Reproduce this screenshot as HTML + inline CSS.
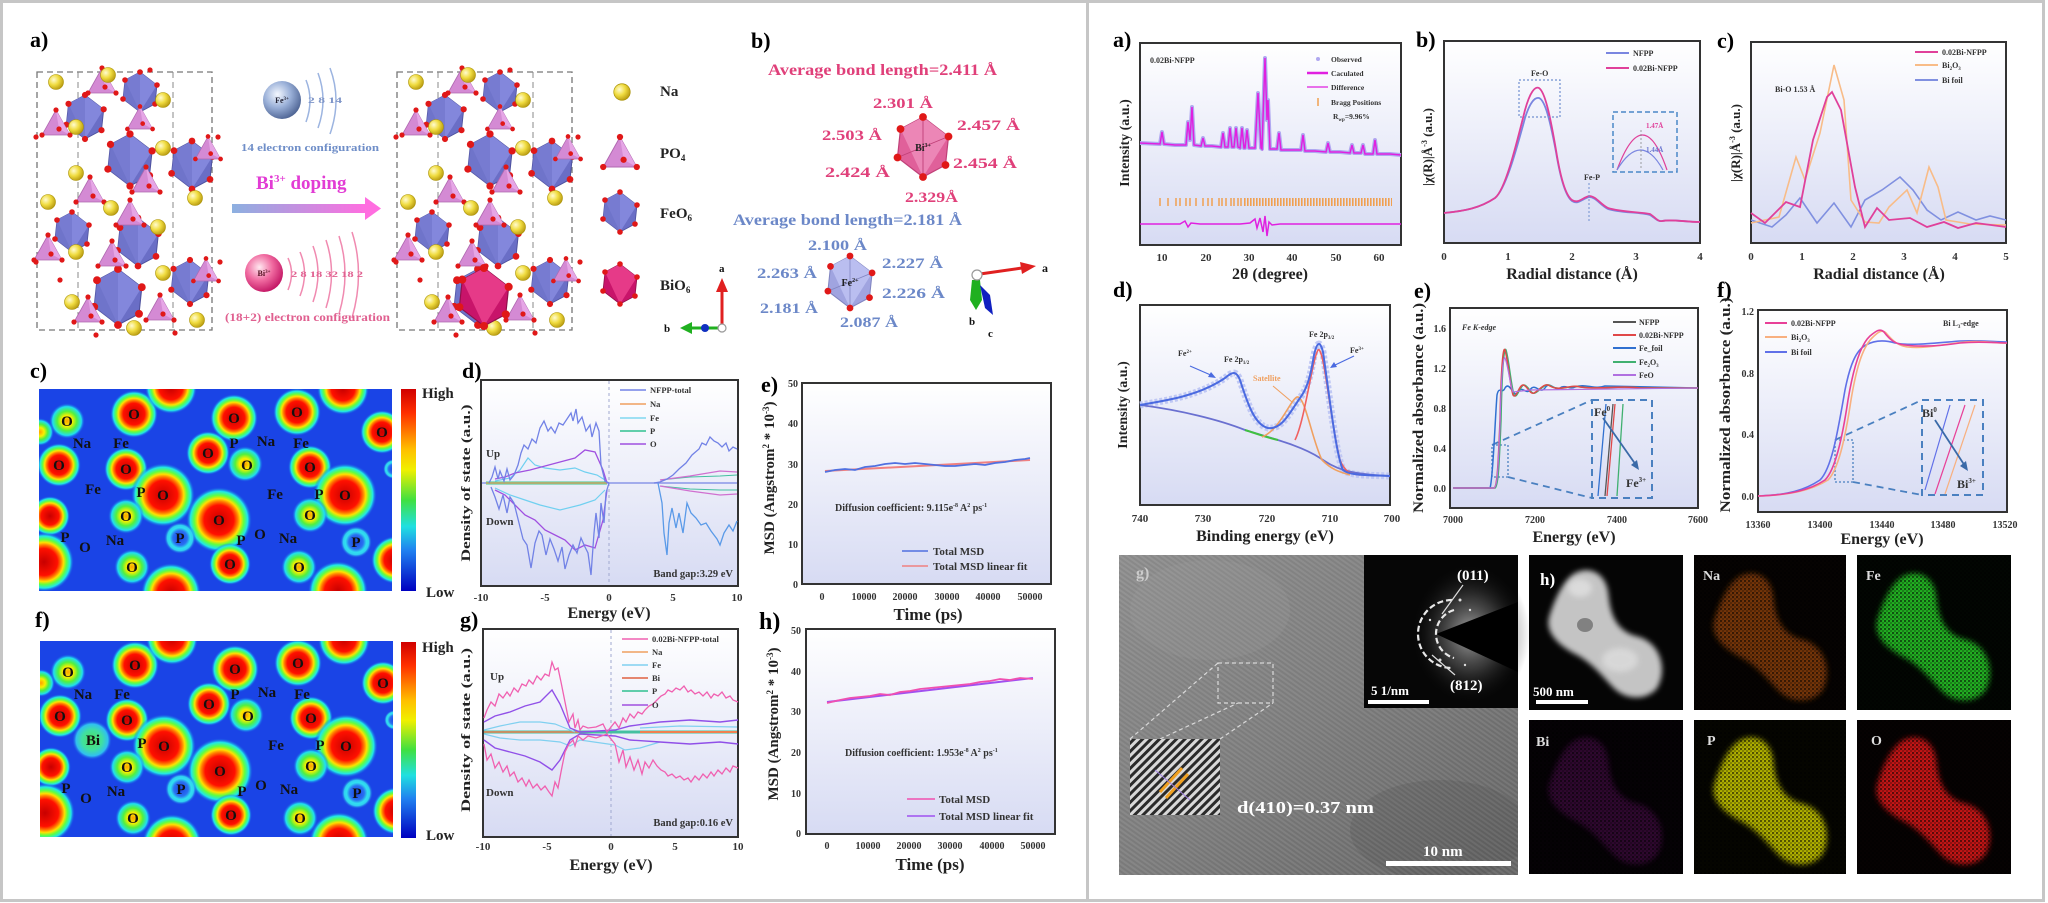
<!DOCTYPE html>
<html><head><meta charset="utf-8"><style>
html,body{margin:0;padding:0;background:#fff;}
svg{display:block;}
text{font-family:"Liberation Serif","Times New Roman",serif;font-weight:bold;}
</style></head><body>
<svg width="2048" height="903" viewBox="0 0 2048 903" xmlns="http://www.w3.org/2000/svg">
<defs>
<linearGradient id="pbg" x1="0" y1="0" x2="0" y2="1"><stop offset="0" stop-color="#ffffff"/><stop offset="1" stop-color="#d7dbf3"/></linearGradient>
<radialGradient id="naG" cx="0.35" cy="0.35" r="0.7"><stop offset="0" stop-color="#fffbd0"/><stop offset="0.5" stop-color="#f0dc40"/><stop offset="1" stop-color="#b89a10"/></radialGradient>
<radialGradient id="feG" cx="0.38" cy="0.35" r="0.7"><stop offset="0" stop-color="#f4f8ff"/><stop offset="0.5" stop-color="#9ab0d8"/><stop offset="1" stop-color="#4a6090"/></radialGradient>
<radialGradient id="biG" cx="0.38" cy="0.35" r="0.7"><stop offset="0" stop-color="#ffe8f0"/><stop offset="0.5" stop-color="#f06aa0"/><stop offset="1" stop-color="#c01060"/></radialGradient>
<linearGradient id="arrG" x1="0" y1="0" x2="1" y2="0"><stop offset="0" stop-color="#8cb0e0"/><stop offset="1" stop-color="#ff6ee0"/></linearGradient>
<radialGradient id="hot"><stop offset="0" stop-color="#c80000"/><stop offset="0.45" stop-color="#ff1000"/><stop offset="0.57" stop-color="#ff8000"/><stop offset="0.65" stop-color="#ffe000"/><stop offset="0.75" stop-color="#60ff40"/><stop offset="0.87" stop-color="#20e8e8"/><stop offset="1" stop-color="#1a44e6" stop-opacity="0"/></radialGradient>
<radialGradient id="warm"><stop offset="0" stop-color="#ffa000"/><stop offset="0.3" stop-color="#f8f000"/><stop offset="0.55" stop-color="#50f040"/><stop offset="0.8" stop-color="#20e0f0"/><stop offset="1" stop-color="#1a44e6" stop-opacity="0"/></radialGradient>
<radialGradient id="cyr"><stop offset="0" stop-color="#1a44e6"/><stop offset="0.45" stop-color="#2a70f0"/><stop offset="0.65" stop-color="#30e0f0"/><stop offset="0.8" stop-color="#30d0f0"/><stop offset="1" stop-color="#1a44e6" stop-opacity="0"/></radialGradient>
<radialGradient id="grn"><stop offset="0" stop-color="#50e060"/><stop offset="0.5" stop-color="#40e0a0"/><stop offset="0.8" stop-color="#30c0f0"/><stop offset="1" stop-color="#1a44e6" stop-opacity="0"/></radialGradient>
<linearGradient id="cbar" x1="0" y1="0" x2="0" y2="1"><stop offset="0" stop-color="#d00000"/><stop offset="0.12" stop-color="#ff3000"/><stop offset="0.3" stop-color="#ffc000"/><stop offset="0.4" stop-color="#f0f000"/><stop offset="0.55" stop-color="#40e040"/><stop offset="0.68" stop-color="#20e0e0"/><stop offset="0.8" stop-color="#2080f0"/><stop offset="1" stop-color="#0000c0"/></linearGradient>
<radialGradient id="glow"><stop offset="0" stop-color="#bbbbbb" stop-opacity="0.9"/><stop offset="0.5" stop-color="#666" stop-opacity="0.5"/><stop offset="1" stop-color="#000" stop-opacity="0"/></radialGradient>
<linearGradient id="temG" x1="0" y1="0" x2="1" y2="1"><stop offset="0" stop-color="#8a8a8a"/><stop offset="0.5" stop-color="#7a7a7a"/><stop offset="1" stop-color="#626262"/></linearGradient>
<pattern id="fringe" width="4" height="4" patternUnits="userSpaceOnUse" patternTransform="rotate(35)"><rect width="4" height="2" fill="#fff" fill-opacity="0.09"/></pattern>
<pattern id="stripes" width="6" height="6" patternUnits="userSpaceOnUse" patternTransform="rotate(-45)"><rect width="6" height="6" fill="#2a2a2a"/><rect width="6" height="3" fill="#d8d8d8"/></pattern>
<pattern id="speck" width="4" height="4" patternUnits="userSpaceOnUse"><circle cx="1" cy="1" r="1.2" fill="#000" fill-opacity="0.55"/><circle cx="3" cy="3" r="0.9" fill="#000" fill-opacity="0.45"/></pattern>
<filter id="bl" x="-20%" y="-20%" width="140%" height="140%"><feGaussianBlur stdDeviation="3"/></filter>
<clipPath id="cpc"><rect x="39" y="389" width="353" height="202"/></clipPath>
<clipPath id="cpf"><rect x="40" y="641" width="353" height="196"/></clipPath>
<clipPath id="cptem"><rect x="1119" y="555" width="399" height="320"/></clipPath>

<g id="oct"><polygon points="0,-20 17,-7 15,12 0,20 -17,7 -15,-12" fill="#6a6ec6" stroke="#4d519e" stroke-width="0.8"/><polygon points="0,-20 17,-7 0,20 -15,-12" fill="#8387dc"/><polygon points="0,-20 0,20 -17,7 -15,-12" fill="#7276cc" opacity="0.7"/><g fill="#e01818"><circle cx="0" cy="-20" r="2.8"/><circle cx="17" cy="-7" r="2.8"/><circle cx="15" cy="12" r="2.8"/><circle cx="0" cy="20" r="2.8"/><circle cx="-17" cy="7" r="2.8"/><circle cx="-15" cy="-12" r="2.8"/></g></g>
<g id="octBi"><polygon points="0,-20 17,-7 15,12 0,20 -17,7 -15,-12" fill="#c8146a" stroke="#90104a" stroke-width="0.8"/><polygon points="0,-20 17,-7 0,20 -15,-12" fill="#e63a88"/><g fill="#e01818"><circle cx="0" cy="-20" r="2.8"/><circle cx="17" cy="-7" r="2.8"/><circle cx="15" cy="12" r="2.8"/><circle cx="0" cy="20" r="2.8"/><circle cx="-17" cy="7" r="2.8"/><circle cx="-15" cy="-12" r="2.8"/></g></g>
<g id="octP"><polygon points="0,-20 17,-7 15,12 0,20 -17,7 -15,-12" fill="#e0609a" stroke="#c04078" stroke-width="0.8"/><polygon points="0,-20 17,-7 0,20 -15,-12" fill="#ec86b6"/><g stroke="#c04078" stroke-width="0.6"><line x1="0" y1="-20" x2="0" y2="20"/><line x1="-17" y1="7" x2="17" y2="-7"/></g><g fill="#e01818"><circle cx="0" cy="-20" r="2.6"/><circle cx="17" cy="-7" r="2.6"/><circle cx="15" cy="12" r="2.6"/><circle cx="0" cy="20" r="2.6"/><circle cx="-17" cy="7" r="2.6"/><circle cx="-15" cy="-12" r="2.6"/></g></g>
<g id="octL"><polygon points="0,-20 17,-7 15,12 0,20 -17,7 -15,-12" fill="#a0a4e0" stroke="#8084c0" stroke-width="0.8"/><polygon points="0,-20 17,-7 0,20 -15,-12" fill="#babef0"/><g stroke="#8084c0" stroke-width="0.6"><line x1="0" y1="-20" x2="0" y2="20"/><line x1="-17" y1="7" x2="17" y2="-7"/></g><g fill="#e01818"><circle cx="0" cy="-20" r="2.6"/><circle cx="17" cy="-7" r="2.6"/><circle cx="15" cy="12" r="2.6"/><circle cx="0" cy="20" r="2.6"/><circle cx="-17" cy="7" r="2.6"/><circle cx="-15" cy="-12" r="2.6"/></g></g>
<g id="tet"><polygon points="0,-15 14,10 -14,10" fill="#d48ad4" stroke="#b068b0" stroke-width="0.8"/><polygon points="0,-15 14,10 3,4" fill="#e6a6e6"/><g fill="#e01818"><circle cx="0" cy="-15" r="2.6"/><circle cx="14" cy="10" r="2.6"/><circle cx="-14" cy="10" r="2.6"/><circle cx="3" cy="4" r="2.6"/></g></g>
<g id="naB"><circle r="7.5" fill="url(#naG)" stroke="#a89000" stroke-width="0.6"/></g>

<g id="cryst">
<rect x="37" y="72" width="175" height="258" fill="none" stroke="#777" stroke-width="1.3" stroke-dasharray="6,4"/>
<line x1="78" y1="72" x2="78" y2="330" stroke="#888" stroke-width="1" stroke-dasharray="6,4"/>
<line x1="173" y1="72" x2="173" y2="330" stroke="#888" stroke-width="1" stroke-dasharray="6,4"/>
<use href="#oct" transform="translate(85,117) scale(1.1)"/>
<use href="#oct" transform="translate(140,92) scale(1.0)"/>
<use href="#oct" transform="translate(130,160) scale(1.3)"/>
<use href="#oct" transform="translate(192,165) scale(1.2)"/>
<use href="#oct" transform="translate(72,232) scale(1.0)"/>
<use href="#oct" transform="translate(138,242) scale(1.2)"/>
<use href="#oct" transform="translate(118,297) scale(1.4)"/>
<use href="#oct" transform="translate(190,282) scale(1.1)"/>
<use href="#tet" transform="translate(102,83)"/>
<use href="#tet" transform="translate(56,125)"/>
<use href="#tet" transform="translate(140,120) scale(0.9)"/>
<use href="#tet" transform="translate(146,182)"/>
<use href="#tet" transform="translate(90,192)"/>
<use href="#tet" transform="translate(130,215)"/>
<use href="#tet" transform="translate(208,150) scale(0.9)"/>
<use href="#tet" transform="translate(48,250)"/>
<use href="#tet" transform="translate(112,256)"/>
<use href="#tet" transform="translate(88,312)"/>
<use href="#tet" transform="translate(160,310)"/>
<use href="#tet" transform="translate(206,272) scale(0.9)"/>
<use href="#naB" transform="translate(56,82)"/>
<use href="#naB" transform="translate(108,75)"/>
<use href="#naB" transform="translate(163,100)"/>
<use href="#naB" transform="translate(76,127)"/>
<use href="#naB" transform="translate(163,148)"/>
<use href="#naB" transform="translate(76,173)"/>
<use href="#naB" transform="translate(48,202)"/>
<use href="#naB" transform="translate(111,208)"/>
<use href="#naB" transform="translate(195,198)"/>
<use href="#naB" transform="translate(158,227)"/>
<use href="#naB" transform="translate(76,252)"/>
<use href="#naB" transform="translate(163,273)"/>
<use href="#naB" transform="translate(72,302)"/>
<use href="#naB" transform="translate(197,320)"/>
<use href="#naB" transform="translate(134,328)"/>
<g fill="#e01818"><circle cx="36" cy="137" r="2.6"/><circle cx="218" cy="137" r="2.6"/><circle cx="36" cy="262" r="2.6"/><circle cx="220" cy="262" r="2.6"/><circle cx="150" cy="70" r="2.6"/><circle cx="96" cy="335" r="2.6"/><circle cx="175" cy="333" r="2.6"/><circle cx="60" cy="280" r="2.6"/></g>
</g>

<g id="spots">
<rect x="30" y="380" width="370" height="220" fill="#1a44e6"/>
<circle cx="67" cy="421" r="18" fill="url(#warm)"/>
<circle cx="134" cy="414" r="24" fill="url(#hot)"/>
<circle cx="171" cy="388" r="26" fill="url(#hot)"/>
<circle cx="234" cy="418" r="24" fill="url(#hot)"/>
<circle cx="297" cy="412" r="24" fill="url(#hot)"/>
<circle cx="343" cy="389" r="26" fill="url(#hot)"/>
<circle cx="382" cy="432" r="22" fill="url(#hot)"/>
<circle cx="59" cy="465" r="22" fill="url(#hot)"/>
<circle cx="126" cy="469" r="22" fill="url(#hot)"/>
<circle cx="208" cy="453" r="22" fill="url(#hot)"/>
<circle cx="245" cy="464" r="18" fill="url(#warm)"/>
<circle cx="310" cy="467" r="22" fill="url(#hot)"/>
<circle cx="163" cy="495" r="32" fill="url(#hot)"/>
<circle cx="345" cy="495" r="32" fill="url(#hot)"/>
<circle cx="50" cy="516" r="20" fill="url(#hot)"/>
<circle cx="126" cy="516" r="18" fill="url(#warm)"/>
<circle cx="219" cy="520" r="33" fill="url(#hot)"/>
<circle cx="310" cy="515" r="18" fill="url(#warm)"/>
<circle cx="180" cy="538" r="16" fill="url(#cyr)"/>
<circle cx="356" cy="542" r="16" fill="url(#cyr)"/>
<circle cx="44" cy="562" r="30" fill="url(#hot)"/>
<circle cx="132" cy="567" r="18" fill="url(#warm)"/>
<circle cx="230" cy="564" r="21" fill="url(#hot)"/>
<circle cx="299" cy="567" r="18" fill="url(#warm)"/>
<circle cx="171" cy="593" r="30" fill="url(#hot)"/>
<circle cx="338" cy="591" r="30" fill="url(#hot)"/>
<circle cx="395" cy="560" r="24" fill="url(#hot)"/>
<circle cx="40" cy="432" r="14" fill="url(#warm)"/>
<circle cx="393" cy="469" r="10" fill="url(#cyr)"/>
</g>
<path id="blob" d="M42 14 C58 6, 76 14, 78 38 C80 58, 86 76, 108 82 C134 88, 142 118, 130 138 C118 152, 96 150, 84 138 C72 126, 62 112, 44 102 C24 92, 10 78, 14 62 C18 48, 28 22, 42 14 Z"/>
</defs>

<rect x="0" y="0" width="2048" height="903" fill="#fff"/>
<!-- panel borders -->
<rect x="1.5" y="1.5" width="1086" height="899" fill="none" stroke="#c6c6c6" stroke-width="3"/>
<rect x="1087.5" y="1.5" width="956" height="899" fill="none" stroke="#c6c6c6" stroke-width="3"/>

<!-- ============ LEFT PANEL ============ -->
<text x="30" y="47" font-size="22">a)</text>
<use href="#cryst"/>
<use href="#cryst" transform="translate(360,0)"/>
<use href="#octBi" transform="translate(484,297) scale(1.45)"/>

<!-- Fe ball -->
<circle cx="282" cy="100" r="19" fill="url(#feG)"/>
<text x="282" y="103" font-size="8" text-anchor="middle" fill="#223">Fe<tspan font-size="5" dy="-3">3+</tspan></text>
<g fill="none" stroke="#9cb4e0" stroke-width="1.5"><path d="M306 80 Q314 100 306 122"/><path d="M318 73 Q328 100 318 128"/><path d="M330 68 Q342 100 330 134"/></g>
<text x="308" y="103" font-size="8" fill="#7f96c8" textLength="34" lengthAdjust="spacingAndGlyphs">2 8 14</text>
<text x="241" y="151" font-size="11" fill="#6f8ec8" textLength="138" lengthAdjust="spacingAndGlyphs">14 electron configuration</text>
<text x="256" y="189" font-size="19" fill="#e23cd4">Bi<tspan font-size="11" dy="-7">3+</tspan><tspan dy="7"> doping</tspan></text>
<rect x="232" y="204" width="134" height="9" fill="url(#arrG)"/>
<polygon points="365,197 381,208.5 365,220" fill="#ff6ee0"/>
<circle cx="264" cy="273" r="19" fill="url(#biG)"/>
<text x="264" y="276" font-size="8" text-anchor="middle" fill="#512">Bi<tspan font-size="5" dy="-3">3+</tspan></text>
<g fill="none" stroke="#f08ab0" stroke-width="1.5"><path d="M288 258 Q295 273 288 290"/><path d="M300 252 Q309 273 300 296"/><path d="M313 246 Q323 273 313 302"/><path d="M326 240 Q337 273 326 308"/><path d="M339 236 Q351 273 339 314"/><path d="M352 232 Q365 273 352 318"/></g>
<text x="291" y="277" font-size="8" fill="#e06090" textLength="72" lengthAdjust="spacingAndGlyphs">2 8 18 32 18 2</text>
<text x="225" y="321" font-size="11.5" fill="#e06090" textLength="165" lengthAdjust="spacingAndGlyphs">(18+2) electron configuration</text>

<!-- legend a -->
<use href="#naB" transform="translate(622,92) scale(1.1)"/>
<use href="#tet" transform="translate(620,155) scale(1.2)"/>
<use href="#oct" transform="translate(620,212) scale(1.0)"/>
<use href="#octBi" transform="translate(620,284) scale(1.0)"/>
<text x="660" y="96" font-size="15" fill="#222">Na</text>
<text x="660" y="158" font-size="15" fill="#222">PO<tspan font-size="9" dy="3">4</tspan></text>
<text x="660" y="218" font-size="15" fill="#222">FeO<tspan font-size="9" dy="3">6</tspan></text>
<text x="660" y="290" font-size="15" fill="#222">BiO<tspan font-size="9" dy="3">6</tspan></text>
<!-- axes left -->
<line x1="722" y1="328" x2="722" y2="290" stroke="#e02020" stroke-width="3"/><polygon points="716,292 722,278 728,292" fill="#e02020"/>
<text x="719" y="272" font-size="11" font-family="Liberation Sans" fill="#111">a</text>
<line x1="720" y1="328" x2="690" y2="328" stroke="#20b020" stroke-width="3"/><polygon points="692,322 680,328 692,334" fill="#20b020"/>
<circle cx="705" cy="328" r="4" fill="#1030c0"/>
<circle cx="722" cy="328" r="4" fill="#fff" stroke="#999" stroke-width="1.2"/>
<text x="664" y="332" font-size="11" font-family="Liberation Sans" fill="#111">b</text>

<!-- b) -->
<text x="751" y="48" font-size="22">b)</text>
<g fill="#e0407a">
<text x="768" y="75" font-size="16" textLength="229" lengthAdjust="spacingAndGlyphs">Average bond length=2.411 Å</text>
<text x="873" y="108" font-size="15" textLength="60" lengthAdjust="spacingAndGlyphs">2.301 Å</text>
<text x="822" y="140" font-size="15" textLength="60" lengthAdjust="spacingAndGlyphs">2.503 Å</text>
<text x="957" y="130" font-size="15" textLength="63" lengthAdjust="spacingAndGlyphs">2.457 Å</text>
<text x="825" y="177" font-size="15" textLength="65" lengthAdjust="spacingAndGlyphs">2.424 Å</text>
<text x="953" y="168" font-size="15" textLength="64" lengthAdjust="spacingAndGlyphs">2.454 Å</text>
<text x="905" y="202" font-size="15" textLength="53" lengthAdjust="spacingAndGlyphs">2.329Å</text>
</g>
<use href="#octP" transform="translate(923,147) scale(1.5)"/>
<text x="923" y="151" font-size="10" text-anchor="middle" fill="#222">Bi<tspan font-size="6" dy="-4">3+</tspan></text>
<g fill="#6c88c8">
<text x="733" y="225" font-size="16" textLength="229" lengthAdjust="spacingAndGlyphs">Average bond length=2.181 Å</text>
<text x="808" y="250" font-size="15" textLength="59" lengthAdjust="spacingAndGlyphs">2.100 Å</text>
<text x="757" y="278" font-size="15" textLength="60" lengthAdjust="spacingAndGlyphs">2.263 Å</text>
<text x="882" y="268" font-size="15" textLength="61" lengthAdjust="spacingAndGlyphs">2.227 Å</text>
<text x="882" y="298" font-size="15" textLength="63" lengthAdjust="spacingAndGlyphs">2.226 Å</text>
<text x="760" y="313" font-size="15" textLength="58" lengthAdjust="spacingAndGlyphs">2.181 Å</text>
<text x="840" y="327" font-size="15" textLength="58" lengthAdjust="spacingAndGlyphs">2.087 Å</text>
</g>
<use href="#octL" transform="translate(850,282) scale(1.3)"/>
<text x="850" y="286" font-size="10" text-anchor="middle" fill="#222">Fe<tspan font-size="6" dy="-4">2+</tspan></text>
<!-- axes right -->
<line x1="980" y1="274" x2="1022" y2="268" stroke="#e02020" stroke-width="3"/><polygon points="1020,262 1036,266 1022,274" fill="#e02020"/>
<text x="1042" y="272" font-size="12" font-family="Liberation Sans" fill="#111">a</text>
<polygon points="972,280 980,280 982,300 976,310 970,300" fill="#20b020"/>
<polygon points="980,285 990,295 993,315 985,308" fill="#1020c0"/>
<circle cx="977" cy="275" r="5" fill="#fff" stroke="#999" stroke-width="1.2"/>
<text x="969" y="325" font-size="11" font-family="Liberation Sans" fill="#111">b</text>
<text x="988" y="337" font-size="11" font-family="Liberation Sans" fill="#111">c</text>

<!-- c) charge density -->
<text x="30" y="378" font-size="22">c)</text>
<g clip-path="url(#cpc)"><use href="#spots"/></g>
<g font-size="15" fill="#111" text-anchor="middle">
<text x="67" y="426">O</text><text x="134" y="419">O</text><text x="234" y="423">O</text><text x="297" y="417">O</text><text x="382" y="437">O</text><text x="59" y="470">O</text><text x="126" y="474">O</text><text x="208" y="458">O</text><text x="247" y="470">O</text><text x="310" y="472">O</text><text x="163" y="500">O</text><text x="345" y="500">O</text><text x="126" y="521">O</text><text x="219" y="525">O</text><text x="310" y="520">O</text><text x="132" y="572">O</text><text x="230" y="569">O</text><text x="299" y="572">O</text><text x="85" y="552">O</text><text x="260" y="539">O</text>
<text x="82" y="448">Na</text><text x="121" y="448">Fe</text><text x="234" y="448">P</text><text x="266" y="446">Na</text><text x="301" y="448">Fe</text><text x="93" y="494">Fe</text><text x="141" y="497">P</text><text x="275" y="499">Fe</text><text x="319" y="499">P</text><text x="65" y="542">P</text><text x="115" y="545">Na</text><text x="180" y="543">P</text><text x="241" y="545">P</text><text x="288" y="543">Na</text><text x="356" y="547">P</text>
</g>
<rect x="401" y="389" width="15" height="202" fill="url(#cbar)"/>
<text x="422" y="398" font-size="15" fill="#222">High</text>
<text x="426" y="597" font-size="15" fill="#222">Low</text>

<!-- f) -->
<text x="35" y="627" font-size="22">f)</text>
<g clip-path="url(#cpf)"><g transform="translate(1,251)"><use href="#spots"/><circle cx="91" cy="489" r="20" fill="url(#grn)"/></g></g>
<g font-size="15" fill="#111" text-anchor="middle" transform="translate(1,251)">
<text x="67" y="426">O</text><text x="134" y="419">O</text><text x="234" y="423">O</text><text x="297" y="417">O</text><text x="382" y="437">O</text><text x="59" y="470">O</text><text x="126" y="474">O</text><text x="208" y="458">O</text><text x="247" y="470">O</text><text x="310" y="472">O</text><text x="163" y="500">O</text><text x="345" y="500">O</text><text x="126" y="521">O</text><text x="219" y="525">O</text><text x="310" y="520">O</text><text x="132" y="572">O</text><text x="230" y="569">O</text><text x="299" y="572">O</text><text x="85" y="552">O</text><text x="260" y="539">O</text>
<text x="82" y="448">Na</text><text x="121" y="448">Fe</text><text x="234" y="448">P</text><text x="266" y="446">Na</text><text x="301" y="448">Fe</text><text x="92" y="494">Bi</text><text x="141" y="497">P</text><text x="275" y="499">Fe</text><text x="319" y="499">P</text><text x="65" y="542">P</text><text x="115" y="545">Na</text><text x="180" y="543">P</text><text x="241" y="545">P</text><text x="288" y="543">Na</text><text x="356" y="547">P</text>
</g>
<rect x="401" y="642" width="15" height="196" fill="url(#cbar)"/>
<text x="422" y="652" font-size="15" fill="#222">High</text>
<text x="426" y="840" font-size="15" fill="#222">Low</text>

<!-- d) DOS -->
<text x="462" y="378" font-size="22">d)</text>
<rect x="481" y="380" width="257" height="206" fill="url(#pbg)" stroke="#333" stroke-width="2"/>
<line x1="609" y1="381" x2="609" y2="585" stroke="#a0a8d0" stroke-width="1" stroke-dasharray="3,3"/>
<line x1="482" y1="483" x2="737" y2="483" stroke="#8a96e8" stroke-width="1.5"/>
<line x1="486" y1="483" x2="607" y2="483" stroke="#40c890" stroke-width="3"/>
<line x1="486" y1="483" x2="607" y2="483" stroke="#f0a060" stroke-width="1.2"/>
<polyline fill="none" stroke="#44c0a0" stroke-width="1" points="660,480 690,477 720,476 737,475"/>
<polyline fill="none" stroke="#44c0a0" stroke-width="1" points="660,486 690,489 720,490 737,490"/>
<polyline fill="none" stroke="#70d0f0" stroke-width="1.2" points="495,481 510,478 520,470 528,458 535,465 545,468 560,470 575,468 585,472 597,475 605,480"/>
<polyline fill="none" stroke="#70d0f0" stroke-width="1.2" points="495,488 510,495 525,500 540,505 560,510 580,505 595,500 605,490"/>
<polyline fill="none" stroke="#a050e0" stroke-width="1.3" points="495,479 505,477 515,473 530,470 545,466 560,462 575,458 585,450 595,452 603,470 607,483"/>
<polyline fill="none" stroke="#a050e0" stroke-width="1.3" points="495,490 505,495 515,505 525,515 535,520 545,530 555,535 565,540 575,550 585,545 595,548 603,520 607,490"/>
<polyline fill="none" stroke="#d070d0" stroke-width="1.2" points="660,480 690,476 720,471 737,472"/>
<polyline fill="none" stroke="#d070d0" stroke-width="1.2" points="660,486 690,491 720,495 737,494"/>
<polyline fill="none" stroke="#7282e6" stroke-width="1.3" points="489,483 492,477 495,467 498,479 500,471 504,481 507,469 510,480 514,475 518,465 521,453 524,445 528,449 532,439 536,443 540,428 544,421 548,431 551,427 555,433 559,423 563,425 567,419 571,413 573,421 576,409 578,423 582,417 586,431 590,425 592,437 596,423 599,431 601,465 605,481 609,483"/>
<polyline fill="none" stroke="#7282e6" stroke-width="1.3" points="491,487 495,497 499,509 503,495 507,513 510,497 514,503 519,523 523,539 527,545 531,568 535,543 539,531 542,535 546,555 550,539 554,549 558,561 562,547 565,569 569,555 573,545 577,553 581,538 585,547 588,553 591,575 594,533 596,513 599,538 601,503 604,523 606,493 609,483"/>
<polyline fill="none" stroke="#7282e6" stroke-width="1.3" points="654,483 660,482 667,479 673,475 679,469 686,463 692,455 699,449 702,443 706,445 710,437 714,441 718,443 722,447 726,443 729,451 733,447 737,449"/>
<polyline fill="none" stroke="#5a9ae8" stroke-width="1.3" points="658,483 662,503 664,533 667,555 669,523 672,508 676,528 679,513 683,533 687,503 691,513 696,518 701,525 706,523 711,531 717,539 720,545 724,533 729,525 733,531 737,521"/>
<g stroke-width="1.6"><line x1="620" y1="390" x2="646" y2="390" stroke="#7282e6"/><line x1="620" y1="404" x2="646" y2="404" stroke="#f0a060"/><line x1="620" y1="418" x2="646" y2="418" stroke="#80d8f0"/><line x1="620" y1="431" x2="646" y2="431" stroke="#30c090"/><line x1="620" y1="444" x2="646" y2="444" stroke="#a050e0"/></g>
<g font-size="8.5" fill="#333"><text x="650" y="393">NFPP-total</text><text x="650" y="407">Na</text><text x="650" y="421">Fe</text><text x="650" y="434">P</text><text x="650" y="447">O</text></g>
<text x="486" y="457" font-size="11" fill="#333">Up</text>
<text x="486" y="525" font-size="11" fill="#333">Down</text>
<text x="733" y="577" font-size="10.5" fill="#333" text-anchor="end">Band gap:3.29 eV</text>
<g font-size="11" fill="#333" text-anchor="middle"><text x="481" y="601">-10</text><text x="545" y="601">-5</text><text x="609" y="601">0</text><text x="673" y="601">5</text><text x="737" y="601">10</text></g>
<text x="609" y="618" font-size="16" text-anchor="middle" fill="#222">Energy (eV)</text>
<text transform="translate(470,483) rotate(-90)" font-size="13" text-anchor="middle" fill="#222" textLength="157" lengthAdjust="spacingAndGlyphs">Density of state (a.u.)</text>

<!-- g) DOS -->
<text x="460" y="627" font-size="22">g)</text>
<rect x="483" y="629" width="255" height="208" fill="url(#pbg)" stroke="#333" stroke-width="2"/>
<line x1="611" y1="630" x2="611" y2="836" stroke="#a0a8d0" stroke-width="1" stroke-dasharray="3,3"/>
<line x1="484" y1="732" x2="737" y2="732" stroke="#44c0a0" stroke-width="3"/>
<line x1="484" y1="732" x2="580" y2="732" stroke="#f08050" stroke-width="1.5"/>
<line x1="640" y1="732" x2="737" y2="732" stroke="#f08050" stroke-width="2"/>
<polyline fill="none" stroke="#80d0f0" stroke-width="1.2" points="484,730 500,726 520,722 540,722 555,724 565,728 575,732"/>
<polyline fill="none" stroke="#80d0f0" stroke-width="1.2" points="484,734 500,738 520,740 540,740 560,742 570,746 580,740 615,745 625,750 640,748 660,742"/>
<polyline fill="none" stroke="#80d0f0" stroke-width="1.2" points="640,728 680,726 737,727"/>
<polyline fill="none" stroke="#9050e8" stroke-width="1.4" points="484,722 495,716 510,712 525,706 540,702 552,690 560,704 570,728 580,732 615,730 630,726 660,722 690,720 720,722 738,720"/>
<polyline fill="none" stroke="#9050e8" stroke-width="1.4" points="484,740 495,748 510,752 525,756 540,762 552,770 560,760 570,740 580,734 615,736 630,740 660,742 690,744 720,742 738,744"/>
<polyline fill="none" stroke="#f060b0" stroke-width="1.3" points="484,718 487,710 491,702 495,706 499,694 503,698 507,692 510,696 514,688 518,692 522,684 526,686 529,680 533,684 537,676 541,680 545,674 549,676 552,662 555,670 558,668 561,682 565,702 569,722 573,714 575,728 578,720 580,730 583,726 588,728 596,727 603,724 607,732 615,722 619,728 623,718 626,722 630,714 634,718 638,712 642,714 645,710 649,706 653,704 657,700 661,696 665,694 668,690 672,692 676,688 680,690 684,686 688,692 691,690 695,694 699,692 703,696 707,692 711,698 714,694 718,696 722,692 726,698 730,696 733,700 738,702"/>
<polyline fill="none" stroke="#f060b0" stroke-width="1.3" points="484,744 487,760 491,754 495,768 499,762 503,772 507,766 510,776 514,772 518,782 522,778 526,786 529,780 533,788 537,784 541,790 545,786 549,792 552,796 555,782 558,788 561,772 565,752 569,744 573,740 575,746 578,736 583,740 588,736 596,738 607,734 615,744 619,762 623,750 626,767 630,757 634,770 638,760 642,774 645,762 649,768 653,760 657,766 661,770 665,772 668,776 672,774 676,778 680,776 684,780 688,778 691,782 695,776 699,780 703,774 707,778 711,772 714,776 718,770 722,774 726,768 730,772 733,766 738,768"/>
<g stroke-width="1.6"><line x1="622" y1="639" x2="648" y2="639" stroke="#f060b0"/><line x1="622" y1="652" x2="648" y2="652" stroke="#f0a060"/><line x1="622" y1="665" x2="648" y2="665" stroke="#80d0f0"/><line x1="622" y1="678" x2="648" y2="678" stroke="#e06040"/><line x1="622" y1="691" x2="648" y2="691" stroke="#30c090"/><line x1="622" y1="705" x2="648" y2="705" stroke="#a050e0"/></g>
<g font-size="8.5" fill="#333"><text x="652" y="642">0.02Bi-NFPP-total</text><text x="652" y="655">Na</text><text x="652" y="668">Fe</text><text x="652" y="681">Bi</text><text x="652" y="694">P</text><text x="652" y="708">O</text></g>
<text x="490" y="680" font-size="11" fill="#333">Up</text>
<text x="486" y="796" font-size="11" fill="#333">Down</text>
<text x="733" y="826" font-size="10.5" fill="#333" text-anchor="end">Band gap:0.16 eV</text>
<g font-size="11" fill="#333" text-anchor="middle"><text x="483" y="850">-10</text><text x="547" y="850">-5</text><text x="611" y="850">0</text><text x="675" y="850">5</text><text x="738" y="850">10</text></g>
<text x="611" y="870" font-size="16" text-anchor="middle" fill="#222">Energy (eV)</text>
<text transform="translate(470,730) rotate(-90)" font-size="13" text-anchor="middle" fill="#222" textLength="164" lengthAdjust="spacingAndGlyphs">Density of state (a.u.)</text>

<!-- e) MSD -->
<text x="761" y="392" font-size="22">e)</text>
<rect x="802" y="383" width="249" height="201" fill="url(#pbg)" stroke="#333" stroke-width="2"/>
<g font-size="10" fill="#333" text-anchor="end"><text x="798" y="588">0</text><text x="798" y="548">10</text><text x="798" y="508">20</text><text x="798" y="468">30</text><text x="798" y="427">40</text><text x="798" y="387">50</text></g>
<g font-size="10" fill="#333" text-anchor="middle"><text x="822" y="600">0</text><text x="864" y="600">10000</text><text x="905" y="600">20000</text><text x="947" y="600">30000</text><text x="988" y="600">40000</text><text x="1030" y="600">50000</text></g>
<text x="928" y="620" font-size="17" text-anchor="middle" fill="#222">Time (ps)</text>
<text transform="translate(774,478) rotate(-90)" font-size="15" text-anchor="middle" fill="#222">MSD (Angstrom<tspan font-size="9" dy="-5">2</tspan><tspan dy="5"> * 10</tspan><tspan font-size="9" dy="-5">-3</tspan><tspan dy="5">)</tspan></text>
<polyline fill="none" stroke="#f08080" stroke-width="2" points="825,471 1030,460"/>
<polyline fill="none" stroke="#5070e0" stroke-width="1.8" points="825,472 835,470 845,469 855,470 865,467 875,466 885,464 895,463 905,464 915,463 925,464 935,465 945,466 955,466 965,465 975,464 985,465 995,463 1005,462 1015,460 1025,459 1030,458"/>
<text x="835" y="511" font-size="10" fill="#333">Diffusion coefficient: 9.115e<tspan font-size="6" dy="-4">-8</tspan><tspan dy="4"> A</tspan><tspan font-size="6" dy="-4">2</tspan><tspan dy="4"> ps</tspan><tspan font-size="6" dy="-4">-1</tspan></text>
<line x1="902" y1="551" x2="928" y2="551" stroke="#5070e0" stroke-width="1.6"/>
<line x1="902" y1="566" x2="928" y2="566" stroke="#f08080" stroke-width="1.6"/>
<text x="933" y="555" font-size="11" fill="#333">Total  MSD</text>
<text x="933" y="570" font-size="11" fill="#333">Total  MSD linear fit</text>

<!-- h) MSD -->
<text x="759" y="629" font-size="24">h)</text>
<rect x="806" y="629" width="249" height="205" fill="url(#pbg)" stroke="#333" stroke-width="2"/>
<g font-size="10" fill="#333" text-anchor="end"><text x="801" y="837">0</text><text x="801" y="797">10</text><text x="801" y="756">20</text><text x="801" y="715">30</text><text x="801" y="675">40</text><text x="801" y="634">50</text></g>
<g font-size="10" fill="#333" text-anchor="middle"><text x="827" y="849">0</text><text x="868" y="849">10000</text><text x="909" y="849">20000</text><text x="950" y="849">30000</text><text x="992" y="849">40000</text><text x="1033" y="849">50000</text></g>
<text x="930" y="870" font-size="17" text-anchor="middle" fill="#222">Time (ps)</text>
<text transform="translate(778,724) rotate(-90)" font-size="15" text-anchor="middle" fill="#222">MSD (Angstrom<tspan font-size="9" dy="-5">2</tspan><tspan dy="5"> * 10</tspan><tspan font-size="9" dy="-5">-3</tspan><tspan dy="5">)</tspan></text>
<polyline fill="none" stroke="#a050f0" stroke-width="2" points="827,702 1033,678"/>
<polyline fill="none" stroke="#f050b0" stroke-width="1.8" points="827,703 840,700 850,698 860,697 870,696 880,694 890,695 900,692 910,691 920,689 930,688 940,687 950,686 960,685 970,684 980,682 990,681 1000,679 1010,680 1020,678 1033,679"/>
<text x="845" y="756" font-size="10" fill="#333">Diffusion coefficient: 1.953e<tspan font-size="6" dy="-4">-8</tspan><tspan dy="4"> A</tspan><tspan font-size="6" dy="-4">2</tspan><tspan dy="4"> ps</tspan><tspan font-size="6" dy="-4">-1</tspan></text>
<line x1="907" y1="799" x2="935" y2="799" stroke="#f050b0" stroke-width="1.6"/>
<line x1="907" y1="816" x2="935" y2="816" stroke="#a050f0" stroke-width="1.6"/>
<text x="939" y="803" font-size="11" fill="#333">Total MSD</text>
<text x="939" y="820" font-size="11" fill="#333">Total MSD linear fit</text>

<!-- ============ RIGHT PANEL ============ -->
<!-- a) XRD -->
<text x="1113" y="47" font-size="22">a)</text>
<rect x="1140" y="43" width="261" height="202" fill="url(#pbg)" stroke="#333" stroke-width="2"/>
<path d="M1140 143 L1150 143.5 L1160 144 L1162 132 L1164 144 L1175 145 L1186 145 L1188 122 L1190 140 L1192 107 L1194 145 L1201 146 L1203 138 L1205 146 L1212 146 L1221 147 L1223 133 L1225 147 L1228 147 L1230 128 L1232 147 L1234 147 L1236 128 L1238 147 L1240 148 L1242 128 L1244 148 L1245 148 L1247 130 L1249 148 L1255 148 L1258 93 L1261 148 L1262 149 L1265 58 L1267 120 L1268 100 L1270 149 L1277 149 L1279 133 L1281 150 L1290 150 L1301 150 L1303 135 L1305 151 L1315 151 L1326 152 L1328 143 L1330 152 L1340 152 L1350 153 L1352 145 L1354 153 L1361 153 L1363 145 L1365 154 L1373 154 L1375 140 L1377 154 L1390 154 L1401 155" fill="none" stroke="#b0a8f0" stroke-width="4" stroke-linejoin="round"/>
<path d="M1140 143 L1150 143.5 L1160 144 L1162 132 L1164 144 L1175 145 L1186 145 L1188 122 L1190 140 L1192 107 L1194 145 L1201 146 L1203 138 L1205 146 L1212 146 L1221 147 L1223 133 L1225 147 L1228 147 L1230 128 L1232 147 L1234 147 L1236 128 L1238 147 L1240 148 L1242 128 L1244 148 L1245 148 L1247 130 L1249 148 L1255 148 L1258 93 L1261 148 L1262 149 L1265 58 L1267 120 L1268 100 L1270 149 L1277 149 L1279 133 L1281 150 L1290 150 L1301 150 L1303 135 L1305 151 L1315 151 L1326 152 L1328 143 L1330 152 L1340 152 L1350 153 L1352 145 L1354 153 L1361 153 L1363 145 L1365 154 L1373 154 L1375 140 L1377 154 L1390 154 L1401 155" fill="none" stroke="#e020e0" stroke-width="1.5"/>
<g stroke="#f0a050" stroke-width="1.5"><line x1="1160" y1="198" x2="1160" y2="206"/><line x1="1168" y1="198" x2="1168" y2="206"/><line x1="1176" y1="198" x2="1176" y2="206"/><line x1="1180" y1="198" x2="1180" y2="206"/><line x1="1186" y1="198" x2="1186" y2="206"/><line x1="1190" y1="198" x2="1190" y2="206"/><line x1="1196" y1="198" x2="1196" y2="206"/><line x1="1203" y1="198" x2="1203" y2="206"/><line x1="1208" y1="198" x2="1208" y2="206"/><line x1="1212" y1="198" x2="1212" y2="206"/><line x1="1219" y1="198" x2="1219" y2="206"/><line x1="1222" y1="198" x2="1222" y2="206"/><line x1="1226" y1="198" x2="1226" y2="206"/><line x1="1231" y1="198" x2="1231" y2="206"/><line x1="1234" y1="198" x2="1234" y2="206"/><line x1="1238" y1="198" x2="1238" y2="206"/><line x1="1241" y1="198" x2="1241" y2="206"/></g>
<line x1="1244" y1="202" x2="1392" y2="202" stroke="#f0a050" stroke-width="8" stroke-dasharray="1.6,1.4"/>
<path d="M1140 224 L1180 224 L1185 221 L1188 227 L1191 223 L1200 224 L1240 224 L1250 223 L1255 219 L1257 228 L1260 218 L1263 232 L1265 216 L1267 236 L1269 222 L1272 225 L1280 224 L1401 224" fill="none" stroke="#e020e0" stroke-width="1.5"/>
<text x="1150" y="63" font-size="8" fill="#333">0.02Bi-NFPP</text>
<circle cx="1318" cy="59" r="2" fill="#b0a8f0"/>
<line x1="1307" y1="73" x2="1328" y2="73" stroke="#e020e0" stroke-width="2.5"/>
<line x1="1307" y1="87" x2="1328" y2="87" stroke="#e020e0" stroke-width="1.2"/>
<line x1="1318" y1="98" x2="1318" y2="106" stroke="#f0a050" stroke-width="1.5"/>
<g font-size="7.5" fill="#333"><text x="1331" y="62">Observed</text><text x="1331" y="76">Caculated</text><text x="1331" y="90">Difference</text><text x="1331" y="105">Bragg Positions</text><text x="1333" y="119">R<tspan font-size="5" dy="2">wp</tspan><tspan dy="-2">=9.96%</tspan></text></g>
<g font-size="11" fill="#333" text-anchor="middle"><text x="1162" y="261">10</text><text x="1206" y="261">20</text><text x="1249" y="261">30</text><text x="1292" y="261">40</text><text x="1336" y="261">50</text><text x="1379" y="261">60</text></g>
<text x="1270" y="279" font-size="16" text-anchor="middle" fill="#222">2θ (degree)</text>
<text transform="translate(1129,143) rotate(-90)" font-size="14" text-anchor="middle" fill="#222">Intensity (a.u.)</text>

<!-- b) EXAFS -->
<text x="1416" y="47" font-size="22">b)</text>
<rect x="1444" y="41" width="256" height="202" fill="url(#pbg)" stroke="#333" stroke-width="2"/>
<path d="M1444 213 C1465 211, 1480 208, 1495 198 C1505 190, 1515 155, 1525 118 C1530 102, 1535 97, 1539 98 C1545 100, 1550 120, 1556 152 C1560 176, 1565 196, 1572 201 C1578 205, 1582 199, 1589 197 C1596 197, 1600 205, 1608 209 C1620 213, 1640 212, 1650 215 C1655 218, 1658 222, 1662 221 C1672 219, 1685 222, 1700 222" fill="none" stroke="#7a86e0" stroke-width="1.8"/>
<path d="M1444 213 C1465 211, 1480 208, 1495 198 C1505 190, 1515 150, 1525 110 C1530 92, 1535 86, 1539 88 C1545 92, 1550 115, 1556 150 C1560 175, 1565 195, 1572 200 C1578 204, 1582 198, 1589 196 C1596 196, 1600 204, 1608 208 C1620 212, 1640 212, 1650 214 C1655 217, 1658 222, 1662 221 C1672 219, 1685 222, 1700 222" fill="none" stroke="#e0409a" stroke-width="1.8"/>
<rect x="1519" y="80" width="41" height="37" fill="none" stroke="#7090d0" stroke-width="1.2" stroke-dasharray="2,2"/>
<text x="1531" y="76" font-size="8" fill="#333">Fe-O</text>
<text x="1584" y="180" font-size="8" fill="#333">Fe-P</text>
<line x1="1589" y1="183" x2="1589" y2="222" stroke="#7090d0" stroke-width="1" stroke-dasharray="2,2"/>
<rect x="1613" y="112" width="64" height="60" fill="none" stroke="#4a88c8" stroke-width="1.5" stroke-dasharray="5,3"/>
<path d="M1617 170 Q1643 100 1667 170" fill="none" stroke="#e0409a" stroke-width="1.2"/>
<path d="M1617 170 Q1641 130 1663 170" fill="none" stroke="#7a86e0" stroke-width="1.2"/>
<line x1="1641" y1="130" x2="1641" y2="170" stroke="#888" stroke-width="0.8" stroke-dasharray="2,2"/>
<text x="1646" y="128" font-size="7" fill="#e0409a">1.47Å</text>
<text x="1646" y="152" font-size="7" fill="#6a76d0">1.44Å</text>
<line x1="1606" y1="53" x2="1629" y2="53" stroke="#7a86e0" stroke-width="2"/>
<line x1="1606" y1="68" x2="1629" y2="68" stroke="#e0409a" stroke-width="2"/>
<text x="1633" y="56" font-size="8" fill="#333">NFPP</text>
<text x="1633" y="71" font-size="8" fill="#333">0.02Bi-NFPP</text>
<g font-size="11" fill="#333" text-anchor="middle"><text x="1444" y="260">0</text><text x="1508" y="260">1</text><text x="1572" y="260">2</text><text x="1636" y="260">3</text><text x="1700" y="260">4</text></g>
<text x="1572" y="279" font-size="16" text-anchor="middle" fill="#222">Radial distance (Å)</text>
<text transform="translate(1432,147) rotate(-90)" font-size="13" text-anchor="middle" fill="#222">|χ(R)|Å<tspan font-size="8" dy="-5">-3</tspan><tspan dy="5"> (a.u.)</tspan></text>

<!-- c) Bi EXAFS -->
<text x="1717" y="48" font-size="22">c)</text>
<rect x="1751" y="42" width="255" height="201" fill="url(#pbg)" stroke="#333" stroke-width="2"/>
<polyline fill="none" stroke="#8090e0" stroke-width="1.6" points="1751,220 1772,227 1786,215 1800,198 1817,223 1834,203 1851,227 1865,200 1882,190 1900,177 1913,190 1927,210 1941,220 1958,212 1976,220 1990,216 2006,220"/>
<polyline fill="none" stroke="#f8bc88" stroke-width="1.6" points="1751,223 1779,217 1796,157 1805,180 1820,133 1834,65 1844,100 1851,200 1865,222 1879,223 1889,207 1907,190 1917,213 1929,167 1938,187 1946,220 1970,224 2006,225"/>
<polyline fill="none" stroke="#e0409a" stroke-width="1.8" points="1751,213 1765,223 1786,202 1800,207 1813,140 1827,97 1832,92 1841,110 1855,187 1865,227 1877,208 1889,220 1910,218 1927,227 1944,222 1958,228 1976,223 2006,227"/>
<text x="1775" y="92" font-size="8" fill="#333">Bi-O 1.53 Å</text>
<line x1="1915" y1="52" x2="1938" y2="52" stroke="#e0409a" stroke-width="2"/>
<line x1="1915" y1="65" x2="1938" y2="65" stroke="#f8bc88" stroke-width="2"/>
<line x1="1915" y1="80" x2="1938" y2="80" stroke="#8090e0" stroke-width="2"/>
<g font-size="8" fill="#333"><text x="1942" y="55">0.02Bi-NFPP</text><text x="1942" y="68">Bi<tspan font-size="5" dy="2">2</tspan><tspan dy="-2">O</tspan><tspan font-size="5" dy="2">3</tspan></text><text x="1942" y="83">Bi foil</text></g>
<g font-size="11" fill="#333" text-anchor="middle"><text x="1751" y="260">0</text><text x="1802" y="260">1</text><text x="1853" y="260">2</text><text x="1904" y="260">3</text><text x="1955" y="260">4</text><text x="2006" y="260">5</text></g>
<text x="1879" y="279" font-size="16" text-anchor="middle" fill="#222">Radial distance (Å)</text>
<text transform="translate(1740,143) rotate(-90)" font-size="13" text-anchor="middle" fill="#222">|χ(R)|Å<tspan font-size="8" dy="-5">-3</tspan><tspan dy="5"> (a.u.)</tspan></text>

<!-- d) XPS -->
<text x="1113" y="297" font-size="22">d)</text>
<rect x="1140" y="305" width="250" height="200" fill="url(#pbg)" stroke="#333" stroke-width="2"/>
<path d="M1140 405 C1170 400, 1200 395, 1225 378 C1232 372, 1236 370, 1240 380 C1248 405, 1255 425, 1268 428 C1282 430, 1290 412, 1300 398 C1306 390, 1310 380, 1314 355 C1317 342, 1320 340, 1323 352 C1330 400, 1336 455, 1343 470 C1350 476, 1370 475, 1390 476" fill="none" stroke="#c0c8f4" stroke-width="7" stroke-dasharray="3,2"/>
<path d="M1140 405 C1180 410, 1220 420, 1245 430 C1270 438, 1300 445, 1320 458 C1335 468, 1345 474, 1390 476" fill="none" stroke="#6a70d0" stroke-width="1.8"/>
<path d="M1245 430 C1255 433, 1265 437, 1278 440" fill="none" stroke="#40c040" stroke-width="2"/>
<path d="M1262 437 C1280 430, 1290 400, 1297 397 C1305 395, 1312 440, 1322 460 C1332 470, 1340 472, 1350 475" fill="none" stroke="#f0a060" stroke-width="1.6"/>
<path d="M1295 440 C1305 420, 1312 360, 1318 350 C1324 345, 1330 420, 1340 460 C1345 472, 1350 474, 1360 475" fill="none" stroke="#f06060" stroke-width="1.6"/>
<path d="M1140 405 C1170 400, 1200 395, 1225 378 C1232 372, 1236 370, 1240 380 C1248 405, 1255 425, 1268 428 C1282 430, 1290 412, 1300 398 C1306 390, 1310 380, 1314 355 C1317 342, 1320 340, 1323 352 C1330 400, 1336 455, 1343 470 C1350 476, 1370 475, 1390 476" fill="none" stroke="#4a6ae0" stroke-width="2"/>
<g font-size="8" fill="#333"><text x="1178" y="356">Fe<tspan font-size="5" dy="-3">2+</tspan></text><text x="1224" y="362">Fe 2p<tspan font-size="5" dy="2">1/2</tspan></text><text x="1309" y="337">Fe 2p<tspan font-size="5" dy="2">3/2</tspan></text><text x="1350" y="353">Fe<tspan font-size="5" dy="-3">3+</tspan></text></g>
<text x="1253" y="381" font-size="8" fill="#f0a060">Satellite</text>
<line x1="1273" y1="386" x2="1292" y2="402" stroke="#f0a060" stroke-width="1"/>
<line x1="1190" y1="366" x2="1213" y2="376" stroke="#4a6ae0" stroke-width="1.2"/><polygon points="1216,378 1208,377 1211,372" fill="#4a6ae0"/>
<line x1="1354" y1="356" x2="1333" y2="366" stroke="#4a6ae0" stroke-width="1.2"/><polygon points="1330,368 1334,362 1337,367" fill="#4a6ae0"/>
<g font-size="11" fill="#333" text-anchor="middle"><text x="1140" y="522">740</text><text x="1203" y="522">730</text><text x="1267" y="522">720</text><text x="1330" y="522">710</text><text x="1392" y="522">700</text></g>
<text x="1265" y="541" font-size="16" text-anchor="middle" fill="#222">Binding energy (eV)</text>
<text transform="translate(1127,405) rotate(-90)" font-size="14" text-anchor="middle" fill="#222">Intensity (a.u.)</text>

<!-- e) Fe K-edge -->
<text x="1414" y="298" font-size="22">e)</text>
<rect x="1450" y="308" width="248" height="200" fill="url(#pbg)" stroke="#333" stroke-width="2"/>
<path d="M1492 445 L1592 400 M1508 477 L1592 498" stroke="#4a80c0" stroke-width="1.8" stroke-dasharray="7,5" fill="none"/>
<rect x="1492" y="445" width="16" height="32" fill="none" stroke="#4a80c0" stroke-width="1.3" stroke-dasharray="2,2"/>
<rect x="1592" y="400" width="60" height="98" fill="none" stroke="#4a80c0" stroke-width="2" stroke-dasharray="7,5"/>
<path d="M1453 488 L1490 488 C1493 480, 1495 420, 1497 395 C1499 385, 1502 395, 1505 388 C1510 380, 1514 400, 1518 392 C1522 385, 1526 395, 1530 390 C1535 382, 1540 395, 1545 388 C1550 380, 1555 392, 1560 388 C1565 384, 1570 390, 1575 387 C1585 383, 1595 390, 1605 386 L1698 388" fill="none" stroke="#3070d0" stroke-width="1.5"/>
<path d="M1453 488 L1495 488 C1498 487, 1499 470, 1501 420 C1502 370, 1504 345, 1506 350 C1509 360, 1511 385, 1514 395 C1517 400, 1520 385, 1524 385 C1528 385, 1531 395, 1535 393 C1541 390, 1545 382, 1551 386 C1561 392, 1571 384, 1581 387 C1601 390, 1621 385, 1641 388 L1698 388" fill="none" stroke="#40b070" stroke-width="1.5"/>
<path d="M1453 488 L1494 488 C1497 487, 1498 470, 1500 420 C1501 370, 1503 345, 1505 350 C1508 360, 1510 385, 1513 395 C1516 400, 1519 385, 1523 385 C1527 385, 1530 395, 1534 393 C1540 390, 1544 382, 1550 386 C1560 392, 1570 384, 1580 387 C1600 390, 1620 385, 1640 388 L1698 388" fill="none" stroke="#e04848" stroke-width="1.5"/>
<path d="M1453 488 L1494 488 C1497 487, 1498 475, 1500 425 C1501 380, 1503 355, 1505 358 C1508 365, 1510 385, 1513 392 L1530 390 L1698 388" fill="none" stroke="#b070e0" stroke-width="1.2"/>
<g stroke-width="1.3"><line x1="1598" y1="496" x2="1606" y2="404" stroke="#3070d0"/><line x1="1605" y1="496" x2="1613" y2="404" stroke="#555"/><line x1="1607" y1="496" x2="1615" y2="404" stroke="#e04848"/><line x1="1617" y1="496" x2="1623" y2="404" stroke="#40b070"/></g>
<line x1="1603" y1="418" x2="1636" y2="465" stroke="#3a6aa8" stroke-width="1.8"/><polygon points="1639,470 1631,465 1637,460" fill="#3a6aa8"/>
<text x="1594" y="416" font-size="12" fill="#333">Fe<tspan font-size="7" dy="-5">0</tspan></text>
<text x="1626" y="487" font-size="12" fill="#333">Fe<tspan font-size="7" dy="-5">3+</tspan></text>
<text x="1462" y="330" font-size="8" font-style="italic" fill="#333">Fe K-edge</text>
<g stroke-width="2"><line x1="1613" y1="322" x2="1636" y2="322" stroke="#555"/><line x1="1613" y1="335" x2="1636" y2="335" stroke="#e04848"/><line x1="1613" y1="348" x2="1636" y2="348" stroke="#3070d0"/><line x1="1613" y1="362" x2="1636" y2="362" stroke="#40b070"/><line x1="1613" y1="375" x2="1636" y2="375" stroke="#b070e0"/></g>
<g font-size="8" fill="#333"><text x="1639" y="325">NFPP</text><text x="1639" y="338">0.02Bi-NFPP</text><text x="1639" y="351">Fe_foil</text><text x="1639" y="365">Fe<tspan font-size="5" dy="2">2</tspan><tspan dy="-2">O</tspan><tspan font-size="5" dy="2">3</tspan></text><text x="1639" y="378">FeO</text></g>
<g font-size="10" fill="#333" text-anchor="end"><text x="1446" y="332">1.6</text><text x="1446" y="372">1.2</text><text x="1446" y="412">0.8</text><text x="1446" y="452">0.4</text><text x="1446" y="492">0.0</text></g>
<g font-size="10" fill="#333" text-anchor="middle"><text x="1453" y="523">7000</text><text x="1535" y="523">7200</text><text x="1617" y="523">7400</text><text x="1698" y="523">7600</text></g>
<text x="1574" y="542" font-size="16" text-anchor="middle" fill="#222">Energy (eV)</text>
<text transform="translate(1423,408) rotate(-90)" font-size="15" text-anchor="middle" fill="#222" textLength="210" lengthAdjust="spacingAndGlyphs">Normalized absorbance (a.u.)</text>

<!-- f) Bi L3 -->
<text x="1717" y="297" font-size="22">f)</text>
<rect x="1758" y="310" width="249" height="202" fill="url(#pbg)" stroke="#333" stroke-width="2"/>
<path d="M1835 440 L1922 400 M1853 482 L1922 495" stroke="#4a80c0" stroke-width="1.8" stroke-dasharray="7,5" fill="none"/>
<rect x="1835" y="440" width="18" height="42" fill="none" stroke="#4a80c0" stroke-width="1.3" stroke-dasharray="2,2"/>
<rect x="1922" y="400" width="61" height="95" fill="none" stroke="#4a80c0" stroke-width="2" stroke-dasharray="7,5"/>
<path d="M1758 496 C1788 495, 1805 490, 1820 480 C1832 468, 1838 430, 1845 390 C1850 365, 1856 350, 1866 345 C1875 340, 1885 340, 1895 343 C1910 346, 1935 343, 1960 341 C1980 340, 1995 342, 2007 342" fill="none" stroke="#6070e8" stroke-width="1.6"/>
<path d="M1758 496 C1792 495, 1812 490, 1828 480 C1838 470, 1845 440, 1851 400 C1856 370, 1862 348, 1872 338 C1878 332, 1882 329, 1886 333 C1893 341, 1898 346, 1908 347 C1925 349, 1945 344, 1965 342 C1985 340, 1998 344, 2007 343" fill="none" stroke="#f8b080" stroke-width="1.6"/>
<path d="M1758 496 C1790 495, 1810 490, 1825 480 C1835 470, 1842 440, 1848 400 C1853 370, 1860 345, 1870 336 C1876 331, 1880 328, 1884 332 C1890 340, 1895 344, 1905 345 C1920 347, 1940 346, 1960 343 C1980 341, 1995 343, 2007 343" fill="none" stroke="#e84098" stroke-width="1.6"/>
<g stroke-width="1.2"><line x1="1925" y1="490" x2="1950" y2="405" stroke="#6070e8"/><line x1="1935" y1="494" x2="1965" y2="405" stroke="#e84098"/><line x1="1945" y1="494" x2="1975" y2="405" stroke="#f8b080"/></g>
<line x1="1935" y1="420" x2="1965" y2="466" stroke="#3a6aa8" stroke-width="1.8"/><polygon points="1968,471 1960,466 1966,461" fill="#3a6aa8"/>
<text x="1922" y="417" font-size="12" fill="#333">Bi<tspan font-size="7" dy="-5">0</tspan></text>
<text x="1957" y="488" font-size="12" fill="#333">Bi<tspan font-size="7" dy="-5">3+</tspan></text>
<g stroke-width="2"><line x1="1765" y1="323" x2="1787" y2="323" stroke="#e84098"/><line x1="1765" y1="337" x2="1787" y2="337" stroke="#f8b080"/><line x1="1765" y1="352" x2="1787" y2="352" stroke="#6070e8"/></g>
<g font-size="8" fill="#333"><text x="1791" y="326">0.02Bi-NFPP</text><text x="1791" y="340">Bi<tspan font-size="5" dy="2">2</tspan><tspan dy="-2">O</tspan><tspan font-size="5" dy="2">3</tspan></text><text x="1791" y="355">Bi foil</text><text x="1943" y="326">Bi L<tspan font-size="5" dy="2">3</tspan><tspan dy="-2">-edge</tspan></text></g>
<g font-size="10" fill="#333" text-anchor="end"><text x="1754" y="315">1.2</text><text x="1754" y="377">0.8</text><text x="1754" y="438">0.4</text><text x="1754" y="500">0.0</text></g>
<g font-size="10" fill="#333" text-anchor="middle"><text x="1758" y="528">13360</text><text x="1820" y="528">13400</text><text x="1882" y="528">13440</text><text x="1943" y="528">13480</text><text x="2005" y="528">13520</text></g>
<text x="1882" y="544" font-size="16" text-anchor="middle" fill="#222">Energy (eV)</text>
<text transform="translate(1730,405) rotate(-90)" font-size="15" text-anchor="middle" fill="#222" textLength="215" lengthAdjust="spacingAndGlyphs">Normalized absorbance (a.u.)</text>

<!-- g) TEM -->
<g clip-path="url(#cptem)">
<rect x="1119" y="555" width="399" height="320" fill="url(#temG)"/>
<rect x="1119" y="555" width="399" height="320" fill="url(#fringe)"/>
<ellipse cx="1210" cy="610" rx="80" ry="50" fill="#a8a8a8" opacity="0.15"/>
<ellipse cx="1440" cy="830" rx="90" ry="50" fill="#303030" opacity="0.12"/>
</g>
<g stroke="#eee" stroke-width="1.2" stroke-dasharray="4,3" fill="none" opacity="0.8"><rect x="1218" y="663" width="55" height="40"/><line x1="1130" y1="739" x2="1218" y2="663"/><line x1="1220" y1="739" x2="1273" y2="703"/><line x1="1160" y1="739" x2="1238" y2="703"/></g>
<rect x="1130" y="739" width="90" height="76" fill="url(#stripes)"/>
<line x1="1160" y1="792" x2="1182" y2="768" stroke="#f0a020" stroke-width="3"/>
<line x1="1166" y1="798" x2="1188" y2="774" stroke="#f0a020" stroke-width="3"/>
<line x1="1155" y1="770" x2="1190" y2="800" stroke="#a080e0" stroke-width="1"/>
<text x="1136" y="578" font-size="16" fill="#ccc">g)</text>
<text x="1237" y="813" font-size="17" fill="#fff" textLength="137" lengthAdjust="spacingAndGlyphs">d(410)=0.37 nm</text>
<text x="1423" y="856" font-size="15" fill="#fff">10 nm</text>
<rect x="1386" y="861" width="125" height="5" fill="#fff"/>
<!-- SAED -->
<rect x="1364" y="555" width="154" height="153" fill="#060606"/>
<ellipse cx="1470" cy="634" rx="60" ry="72" fill="url(#glow)"/>
<polygon points="1436,634 1518,602 1518,672" fill="#000"/>
<g fill="none" stroke="#e8e8e8" stroke-width="2.2" stroke-dasharray="6,3"><path d="M1452 600 A34 34 0 0 0 1452 668"/><path d="M1454 610 A25 25 0 0 0 1454 658"/></g>
<g fill="#ddd"><circle cx="1460" cy="600" r="1.5"/><circle cx="1470" cy="610" r="1.2"/><circle cx="1430" cy="620" r="1.2"/><circle cx="1440" cy="660" r="1.5"/><circle cx="1465" cy="665" r="1.2"/></g>
<line x1="1463" y1="585" x2="1442" y2="614" stroke="#ddd" stroke-width="1.2"/>
<line x1="1455" y1="675" x2="1432" y2="655" stroke="#ddd" stroke-width="1.2"/>
<text x="1457" y="580" font-size="15" fill="#fff">(011)</text>
<text x="1450" y="690" font-size="15" fill="#fff">(812)</text>
<text x="1371" y="695" font-size="13" fill="#fff">5 1/nm</text>
<rect x="1368" y="700" width="61" height="4" fill="#fff"/>

<!-- h) EDS -->
<g>
<rect x="1529" y="555" width="154" height="155" fill="#050505"/>
<rect x="1694" y="555" width="152" height="155" fill="#060302"/>
<rect x="1857" y="555" width="154" height="155" fill="#020602"/>
<rect x="1529" y="720" width="154" height="154" fill="#050205"/>
<rect x="1694" y="720" width="152" height="154" fill="#050500"/>
<rect x="1857" y="720" width="154" height="154" fill="#060202"/>
<use href="#blob" transform="translate(1536,560) scale(0.93)" fill="#c4c4c4" filter="url(#bl)"/>
<ellipse cx="1580" cy="588" rx="12" ry="9" fill="#eee" opacity="0.55" filter="url(#bl)"/>
<ellipse cx="1620" cy="660" rx="18" ry="12" fill="#e8e8e8" opacity="0.55" filter="url(#bl)"/>
<ellipse cx="1585" cy="625" rx="8" ry="7" fill="#555" opacity="0.6"/>
<use href="#blob" transform="translate(1701,563) scale(0.93)" fill="#a04a08" opacity="0.72" filter="url(#bl)"/>
<use href="#blob" transform="translate(1864,563) scale(0.93)" fill="#22b022" filter="url(#bl)"/>
<use href="#blob" transform="translate(1536,727) scale(0.93)" fill="#901890" opacity="0.3" filter="url(#bl)"/>
<use href="#blob" transform="translate(1701,727) scale(0.93)" fill="#b0b000" filter="url(#bl)"/>
<use href="#blob" transform="translate(1864,727) scale(0.93)" fill="#c41414" filter="url(#bl)"/>
<rect x="1694" y="555" width="152" height="155" fill="url(#speck)"/>
<rect x="1857" y="555" width="154" height="155" fill="url(#speck)"/>
<rect x="1529" y="720" width="154" height="154" fill="url(#speck)"/>
<rect x="1694" y="720" width="152" height="154" fill="url(#speck)"/>
<rect x="1857" y="720" width="154" height="154" fill="url(#speck)"/>
<text x="1540" y="585" font-size="17" fill="#fff">h)</text>
<text x="1533" y="696" font-size="13" fill="#fff">500 nm</text>
<rect x="1536" y="700" width="52" height="4" fill="#fff"/>
<g font-size="14" fill="#ddd"><text x="1703" y="580">Na</text><text x="1866" y="580">Fe</text><text x="1536" y="746">Bi</text><text x="1707" y="745">P</text><text x="1871" y="745">O</text></g>
</g>
</svg>
</body></html>
